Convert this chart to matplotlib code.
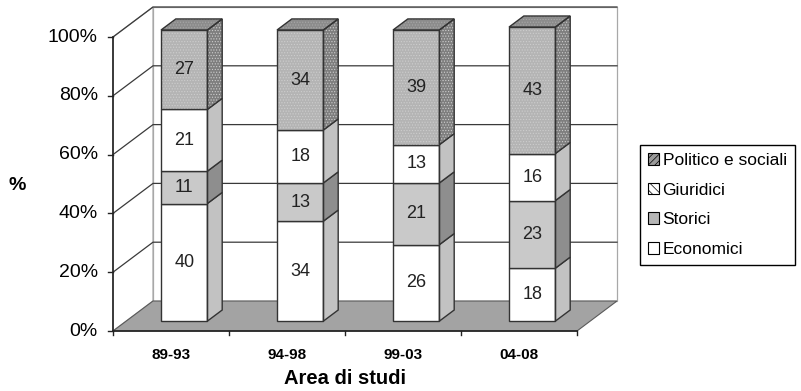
import matplotlib
matplotlib.use("Agg")
import matplotlib.pyplot as plt
from matplotlib.patches import Polygon, Patch

plt.rcParams['font.family'] = ['Liberation Sans', 'DejaVu Sans']
plt.rcParams['hatch.linewidth'] = 0.5

# data
periods = ['89-93', '94-98', '99-03', '04-08']
series_names = ['Economici', 'Storici', 'Giuridici', 'Politico e sociali']
economici = [40, 34, 26, 18]
storici = [11, 13, 21, 23]
giuridici = [21, 18, 13, 16]
politico = [27, 34, 39, 43]
y_ticks = [0, 20, 40, 60, 80, 100]

# styles per series: front colour, side colour, hatch
front_col = ['white', '#c9c9c9', 'white', '#b4b4b4']
side_col = ['#c2c2c2', '#8e8e8e', '#c2c2c2', '#7e7e7e']
hatch = [None, None, None, '......']

# 3d look: depth offset in data units (40 px right, 30 px up)
PX_PER_CAT = 116.0
PX_PER_PCT = 2.94
DX = 40 / PX_PER_CAT
DY = 30 / PX_PER_PCT
D0, D1 = 0.33, 0.70      # bar depth range
HALF_W = 0.2              # half bar width (category units)


def proj(x, y, d):
    return (x + d * DX, y + d * DY)


fig = plt.figure(figsize=(8.01, 3.91), dpi=100)
ax = fig.add_axes([0, 0, 1, 1])
ax.set_xlim(-113 / PX_PER_CAT, (801 - 113) / PX_PER_CAT)
ax.set_ylim(-(391 - 331) / PX_PER_PCT, 331 / PX_PER_PCT)
ax.axis('off')

n = len(periods)
ymax = y_ticks[-1]

# walls
back = [proj(0, 0, 1), proj(n, 0, 1), proj(n, ymax, 1), proj(0, ymax, 1)]
ax.add_patch(Polygon(back, closed=True, facecolor='white', edgecolor='#a8a8a8', lw=0.9, zorder=1))
left = [proj(0, 0, 0), proj(0, 0, 1), proj(0, ymax, 1), proj(0, ymax, 0)]
ax.add_patch(Polygon(left, closed=True, facecolor='white', edgecolor='#a8a8a8', lw=0.9, zorder=1))

# gridlines on left and back walls
for v in y_ticks[1:]:
    pts = [proj(0, v, 0), proj(0, v, 1), proj(n, v, 1)]
    ax.plot([p[0] for p in pts], [p[1] for p in pts], color='#3a3a3a', lw=0.9, zorder=2)

# floor
floor = [proj(0, 0, 0), proj(n, 0, 0), proj(n, 0, 1), proj(0, 0, 1)]
ax.add_patch(Polygon(floor, closed=True, facecolor='#a3a3a3', edgecolor='#5a5a5a', lw=0.8, zorder=3))

# axis lines
ax.plot([0, 0], [0, ymax], color='#222222', lw=1.2, zorder=4)
ax.plot([0, n], [0, 0], color='#222222', lw=1.2, zorder=4)
for v in y_ticks:
    ax.plot([-5 / PX_PER_CAT, 0], [v, v], color='#222222', lw=1, zorder=4)
    ax.text(-15 / PX_PER_CAT, v, f'{v}%', ha='right', va='center', fontsize=14, color='black')
for i in range(n + 1):
    ax.plot([i, i], [0, -4 / PX_PER_PCT], color='#222222', lw=1, zorder=4)

# stacked 3d bars
stack = [economici, storici, giuridici, politico]
for i, label in enumerate(periods):
    xc = i + 0.5
    x0, x1 = xc - HALF_W, xc + HALF_W
    base = 0
    for s, vals in enumerate(stack):
        v = vals[i]
        y0, y1 = base, base + v
        z = 10 + s * 3
        side = [proj(x1, y0, D0), proj(x1, y0, D1), proj(x1, y1, D1), proj(x1, y1, D0)]
        front = [proj(x0, y0, D0), proj(x1, y0, D0), proj(x1, y1, D0), proj(x0, y1, D0)]
        for face, col in ((side, side_col[s]), (front, front_col[s])):
            ax.add_patch(Polygon(face, closed=True, facecolor=col, edgecolor='#cdcdcd' if hatch[s] else col,
                                 lw=0, hatch=hatch[s], zorder=z))
            ax.add_patch(Polygon(face, closed=True, fill=False, edgecolor='#333333', lw=1, zorder=z + 1))
        if s == len(stack) - 1:
            top = [proj(x0, y1, D0), proj(x1, y1, D0), proj(x1, y1, D1), proj(x0, y1, D1)]
            ax.add_patch(Polygon(top, closed=True, facecolor='#8c8c8c', edgecolor='#a8a8a8',
                                 lw=0, hatch=hatch[s], zorder=z))
            ax.add_patch(Polygon(top, closed=True, fill=False, edgecolor='#333333', lw=1, zorder=z + 1))
        cx, cy = proj(xc, (y0 + y1) / 2, D0)
        ax.text(cx, cy, str(v), ha='center', va='center', fontsize=13, color='#222222', zorder=30)
        base = y1
    ax.text(xc, -24 / PX_PER_PCT, label, ha='center', va='center', fontsize=11, fontweight='bold')

ax.text(n / 2, -47 / PX_PER_PCT, 'Area di studi', ha='center', va='center', fontsize=14.5, fontweight='bold')
ax.text(-96 / PX_PER_CAT, (331 - 185) / PX_PER_PCT, '%', ha='center', va='center', fontsize=14, fontweight='bold')

# legend (reversed order, like the original)
leg_face = ['white', '#b5b5b5', 'white', '#9a9a9a']
leg_hatch = [None, None, '\\\\\\\\', '/////']
handles = [Patch(facecolor=leg_face[s], edgecolor='black', lw=0.8, hatch=leg_hatch[s], label=series_names[s])
           for s in range(len(series_names))][::-1]
leg = fig.legend(handles=handles, loc='upper left', bbox_to_anchor=(640 / 801, 1 - 145 / 391),
                 fontsize=12.5, frameon=True, fancybox=False, framealpha=1, edgecolor='black',
                 handlelength=0.65, handleheight=0.65, handletextpad=0.2, labelspacing=0.85,
                 borderpad=0.45, borderaxespad=0)
leg.get_frame().set_linewidth(1)

fig.savefig('out.png', dpi=100)
